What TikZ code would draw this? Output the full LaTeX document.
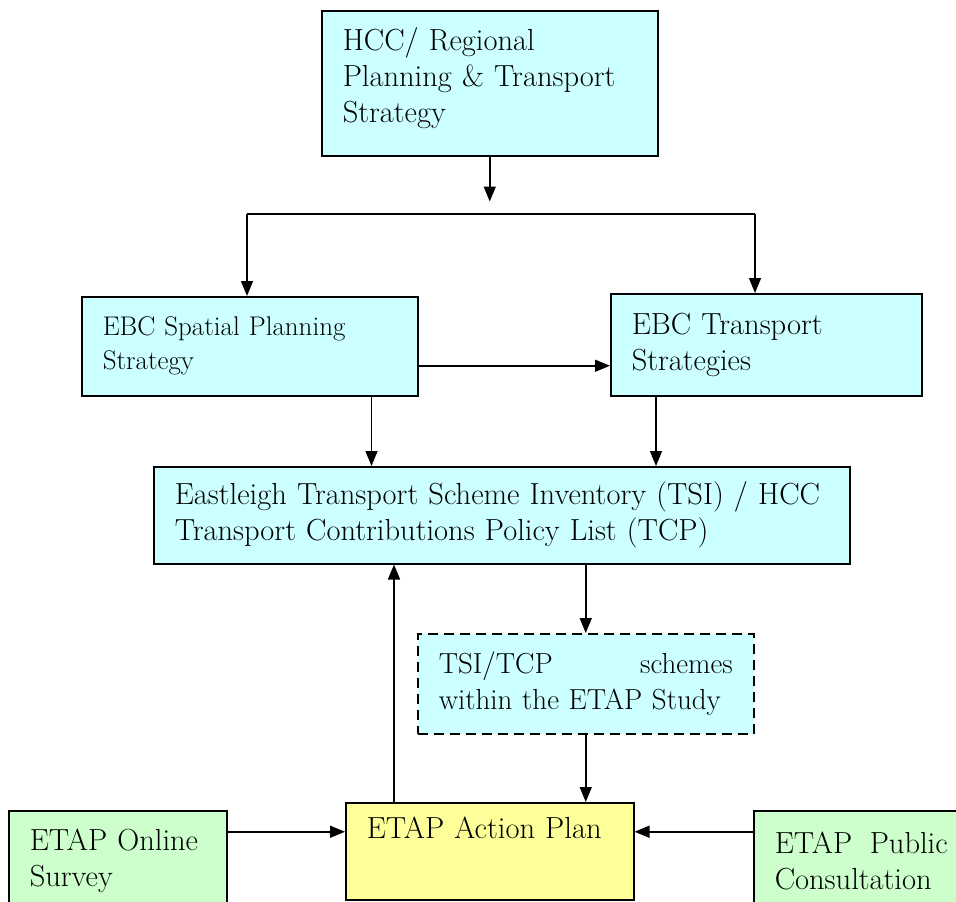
\documentclass[tikz,border=0pt]{standalone}
\usepackage{tikz}
\usetikzlibrary{arrows.meta, positioning, calc}
\definecolor{BoxCyan}{HTML}{CCFFFF}
\definecolor{BoxGreen}{HTML}{CCFFCC}
\definecolor{BoxYellow}{HTML}{FFFF99}

\begin{document}
\begin{tikzpicture}[x=1pt, y=-1pt, >={Triangle[length=15pt,width=12pt]}]
    \tikzstyle{block} = [rectangle, draw=black, fill=BoxCyan, line width=1.5pt, anchor=north west, align=left, inner xsep=21pt, inner ysep=4pt, font=\fontsize{30.5}{36}\selectfont]
    \tikzstyle{small} = [font=\fontsize{27}{34}\selectfont]
    \tikzstyle{line} = [draw, ->, line width=1.5pt]

    \clip (0,0) rectangle (956,902);

    % strategy level
    \node [block, text width=294pt, minimum height=145pt] (hcc) at (321,10) {HCC/ Regional\\Planning \& Transport\\Strategy\\[-30pt]\strut};
    \node [block, small, text width=294pt, minimum height=99pt] (spatial) at (81,296) {EBC Spatial Planning\\Strategy};
    \node [block, text width=269pt, minimum height=102pt] (transport) at (610,293) {EBC Transport\\Strategies};

    % scheme lists
    \node [block, text width=654pt, minimum height=97pt] (tsi) at (153,466) {Eastleigh Transport Scheme Inventory (TSI) / HCC\\Transport Contributions Policy List (TCP)};
    \node [block, dashed, dash pattern=on 10pt off 6pt, font=\fontsize{29}{36}\selectfont, text width=294pt, minimum height=100pt] (scheme) at (417,633) {TSI/TCP \hfill schemes\\within the ETAP Study};

    % action plan and inputs
    \node [block, fill=BoxYellow, text width=246pt, minimum height=97pt] (action) at (345,802) {ETAP Action Plan\\\strut};
    \node [block, fill=BoxGreen, text width=176pt, minimum height=100pt] (survey) at (8,810) {ETAP Online\\Survey};
    \node [block, fill=BoxGreen, text width=173pt, minimum height=100pt] (consult) at (753,810) {ETAP \hfill Public\\Consultation};

    \coordinate (forkL) at (247,214);
    \coordinate (forkR) at (755,214);

    \path [line] (hcc.south) -- ++(0,45);
    \draw [line width=1.5pt] (forkL) -- (forkR);
    \path [line] (forkL) -- (forkL |- spatial.north);
    \path [line] (forkR) -- (forkR |- transport.north);
    \path [line] ([yshift=-19.5pt]spatial.east) coordinate (sp) -- (sp -| transport.west);
    \path [line] ([xshift=-47pt]spatial.south east) coordinate (sd) -- (sd |- tsi.north);
    \path [line] ([xshift=46pt]transport.south west) coordinate (td) -- (td |- tsi.north);
    \path [line] (scheme.north |- tsi.south) -- (scheme.north);
    \path [line] (scheme.south) -- (scheme.south |- action.north);
    \path [line] ([xshift=49pt]action.north west) coordinate (au) -- (au |- tsi.south);

    \coordinate (aw) at ([yshift=19.5pt]action.west);
    \coordinate (ae) at ([yshift=19.5pt]action.east);
    \path [line] (survey.east |- aw) -- (aw);
    \path [line] (consult.west |- ae) -- (ae);
\end{tikzpicture}
\end{document}
